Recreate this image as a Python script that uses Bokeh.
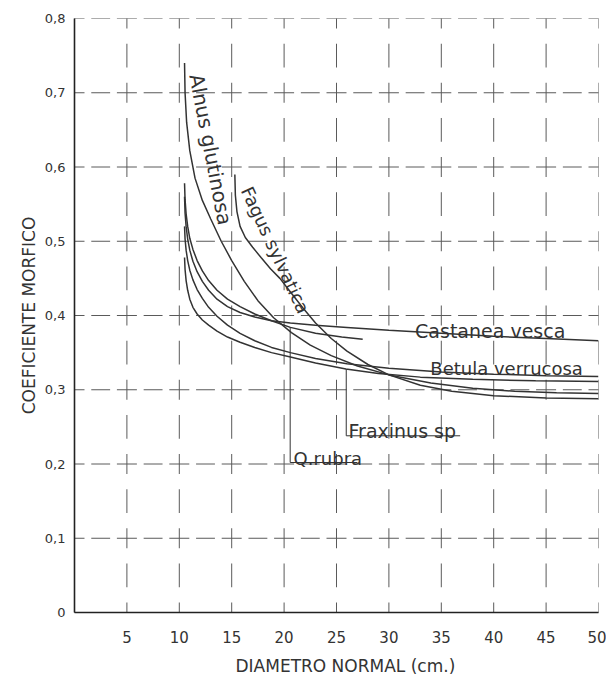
from bokeh.plotting import figure
from bokeh.models import Range1d, FixedTicker, Label, Title
from bokeh.embed import file_html
from bokeh.resources import INLINE

# ---------------- data ----------------
x_ticks = [5, 10, 15, 20, 25, 30, 35, 40, 45, 50]
x_tick_labels = ["5", "10", "15", "20", "25", "30", "35", "40", "45", "50"]
y_ticks = [0.0, 0.1, 0.2, 0.3, 0.4, 0.5, 0.6, 0.7, 0.8]
y_tick_labels = ["0", "0,1", "0,2", "0,3", "0,4", "0,5", "0,6", "0,7", "0,8"]

alnus_x = [10.5, 10.55, 10.7, 11.0, 11.5, 12.2, 13.0, 14.0, 15.0, 16.2, 17.5, 19.0, 20.7, 22.5, 24.5, 27.0, 30.0, 34.0, 38.0, 42.0, 46.0, 50.0]
alnus_y = [0.740, 0.700, 0.660, 0.622, 0.585, 0.555, 0.530, 0.500, 0.474, 0.446, 0.420, 0.397, 0.377, 0.360, 0.346, 0.332, 0.320, 0.309, 0.302, 0.298, 0.296, 0.295]

fagus_x = [15.3, 15.35, 15.5, 15.8, 16.3, 17.0, 17.8, 18.7, 19.6, 20.7, 21.8, 23.0, 24.5, 26.0, 28.0, 30.0, 33.0, 36.0, 40.0, 45.0, 50.0]
fagus_y = [0.590, 0.562, 0.540, 0.520, 0.505, 0.492, 0.478, 0.463, 0.450, 0.430, 0.410, 0.390, 0.369, 0.352, 0.334, 0.320, 0.306, 0.298, 0.292, 0.289, 0.288]

castanea_x = [10.5, 10.55, 10.65, 10.8, 11.0, 11.3, 11.7, 12.2, 12.8, 13.6, 14.6, 15.8, 17.2, 18.8, 20.6, 23.0, 26.0, 30.0, 35.0, 40.0, 45.0, 50.0]
castanea_y = [0.560, 0.538, 0.520, 0.503, 0.488, 0.473, 0.459, 0.446, 0.434, 0.422, 0.412, 0.404, 0.398, 0.393, 0.390, 0.387, 0.384, 0.380, 0.376, 0.372, 0.369, 0.366]

qrubra_x = [10.5, 10.55, 10.65, 10.8, 11.0, 11.3, 11.7, 12.2, 12.8, 13.6, 14.6, 15.8, 17.2, 18.8, 20.6, 23.0, 25.5, 27.5]
qrubra_y = [0.578, 0.556, 0.537, 0.520, 0.504, 0.489, 0.474, 0.460, 0.447, 0.434, 0.422, 0.412, 0.402, 0.393, 0.384, 0.376, 0.371, 0.368]

betula_x = [10.5, 10.55, 10.65, 10.8, 11.0, 11.3, 11.7, 12.2, 12.8, 13.6, 14.6, 15.8, 17.2, 18.8, 20.6, 23.0, 26.0, 30.0, 35.0, 40.0, 45.0, 50.0]
betula_y = [0.520, 0.503, 0.488, 0.474, 0.461, 0.448, 0.435, 0.423, 0.411, 0.399, 0.387, 0.376, 0.366, 0.357, 0.350, 0.342, 0.335, 0.329, 0.324, 0.321, 0.319, 0.318]

fraxinus_x = [10.5, 10.55, 10.65, 10.8, 11.0, 11.3, 11.7, 12.2, 12.8, 13.6, 14.6, 15.8, 17.2, 18.8, 20.6, 23.0, 25.9, 29.0, 33.0, 38.0, 44.0, 50.0]
fraxinus_y = [0.478, 0.462, 0.447, 0.434, 0.422, 0.411, 0.402, 0.394, 0.387, 0.379, 0.371, 0.364, 0.357, 0.350, 0.344, 0.336, 0.328, 0.322, 0.317, 0.314, 0.312, 0.311]

# ---------------- figure ----------------
INK = "#333333"
GRID = "#5a5a5a"
FONT = "DejaVu Sans"

p = figure(width=606, height=685, x_range=Range1d(0, 50), y_range=Range1d(0, 0.8),
           output_backend="svg", toolbar_location=None,
           min_border_left=74, min_border_right=8, min_border_top=18, min_border_bottom=73)
p.background_fill_color = "white"
p.border_fill_color = "white"
p.outline_line_color = None
p.xgrid.visible = False
p.ygrid.visible = False

# drafting-style grid: crosses at intersections plus a dash between them
gx = [0] + x_ticks
cx, cy = [], []
for xv in gx:
    for yv in y_ticks:
        cx.append(xv)
        cy.append(yv)
p.scatter(cx, cy, marker="cross", size=20, line_color=GRID, line_width=1)

hx0, hx1, hy = [], [], []
for yv in y_ticks[1:]:
    for x0 in [0] + x_ticks[:-1]:
        hx0.append(x0 + 1.6)
        hx1.append(x0 + 3.4)
        hy.append(yv)
p.segment(x0=hx0, y0=hy, x1=hx1, y1=hy, line_color=GRID, line_width=1)

vx, vy0, vy1 = [], [], []
for xv in x_ticks:
    for y0 in y_ticks[:-1]:
        vx.append(xv)
        vy0.append(y0 + 0.034)
        vy1.append(y0 + 0.066)
p.segment(x0=vx, y0=vy0, x1=vx, y1=vy1, line_color=GRID, line_width=1)

# curves
for xs, ys in [(alnus_x, alnus_y), (fagus_x, fagus_y), (castanea_x, castanea_y),
               (qrubra_x, qrubra_y), (betula_x, betula_y), (fraxinus_x, fraxinus_y)]:
    p.line(xs, ys, line_color=INK, line_width=1.5)

# leaders for Q.rubra and Fraxinus
p.line([20.58, 20.58, 27.0], [0.384, 0.202, 0.202], line_color=INK, line_width=1)
p.line([25.93, 25.93, 36.8], [0.328, 0.238, 0.238], line_color=INK, line_width=1)

# curve labels
labels = [
    ("Alnus glutinosa", 11.6, 0.725, -79, 20),
    ("Fagus sylvatica", 16.4, 0.572, -65, 18),
    ("Castanea vesca", 32.5, 0.3785, 0, 19),
    ("Betula verrucosa", 33.95, 0.3286, 0, 18),
    ("Fraxinus sp", 26.15, 0.244, 0, 19),
    ("Q.rubra", 20.9, 0.208, 0, 18),
]
for txt, lx, ly, ang, fs in labels:
    p.add_layout(Label(x=lx, y=ly, text=txt, angle=ang, angle_units="deg",
                       text_font=FONT, text_font_size=f"{fs}px", text_color=INK,
                       text_align="left",
                       text_baseline="middle" if ang != 0 else "alphabetic"))

# axes
p.xaxis.ticker = FixedTicker(ticks=x_ticks)
p.xaxis.major_label_overrides = {t: l for t, l in zip(x_ticks, x_tick_labels)}
p.yaxis.ticker = FixedTicker(ticks=y_ticks)
p.yaxis.major_label_overrides = {t: l for t, l in zip(y_ticks, y_tick_labels)}
for ax in (p.xaxis, p.yaxis):
    ax.axis_line_color = "#222222"
    ax.axis_line_width = 1.6
    ax.major_tick_line_color = None
    ax.minor_tick_line_color = None
    ax.major_label_text_font = FONT
    ax.major_label_text_color = INK
    ax.axis_label_text_font = FONT
    ax.axis_label_text_color = INK
    ax.axis_label_text_font_style = "normal"
p.xaxis.major_label_text_font_size = "15px"
p.yaxis.major_label_text_font_size = "13px"
p.xaxis.major_label_standoff = 12
p.yaxis.major_label_standoff = 3
p.yaxis.axis_label = "COEFICIENTE MORFICO"
p.yaxis.axis_label_text_font_size = "17px"
p.yaxis.axis_label_standoff = 3

# x axis title, placed below the axis and right of centre as in the original
p.add_layout(Title(text="DIAMETRO NORMAL (cm.)", align="left", offset=161, standoff=17,
                   text_font=FONT, text_font_size="17px", text_font_style="normal",
                   text_color=INK), "below")

open("out.html", "w").write(file_html(p, INLINE))
